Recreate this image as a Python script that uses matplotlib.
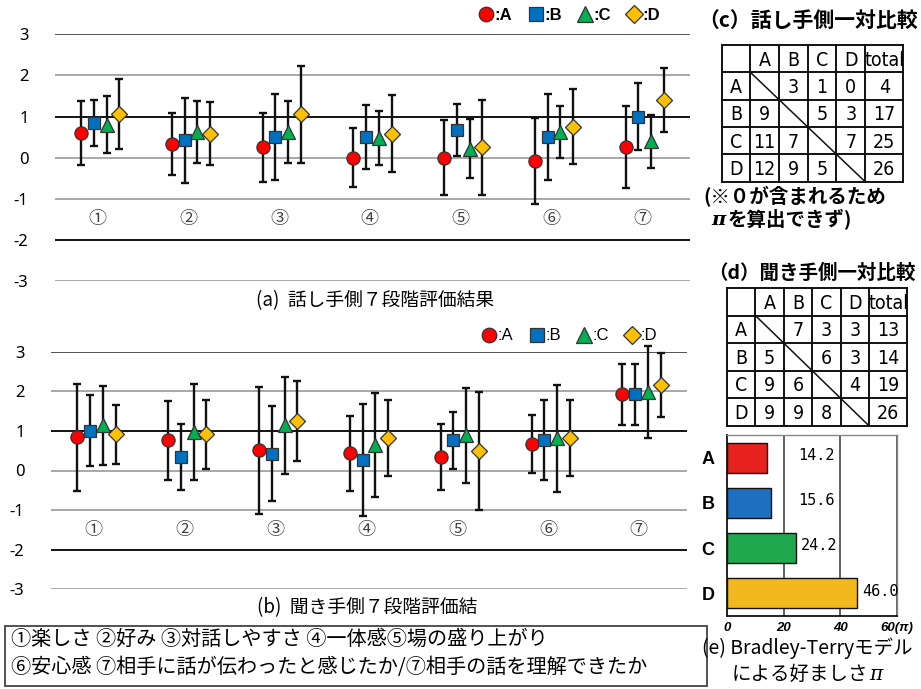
import matplotlib
matplotlib.use('Agg')
import matplotlib.pyplot as plt
from matplotlib import font_manager as fm
import numpy as np
from matplotlib.lines import Line2D
from matplotlib.patches import Rectangle

plt.rcParams['font.family'] = ['Noto Sans CJK JP', 'DejaVu Sans']
plt.rcParams['axes.unicode_minus'] = False

# ---------------- data ----------------
items = ['①', '②', '③', '④', '⑤', '⑥', '⑦']
groups = ['A', 'B', 'C', 'D']

# (a) speaker side: means and SDs
spk_mean_A = [0.60, 0.33, 0.25, 0.00, 0.00, -0.08, 0.25]
spk_mean_B = [0.85, 0.42, 0.50, 0.50, 0.67, 0.50, 1.00]
spk_mean_C = [0.80, 0.63, 0.63, 0.48, 0.22, 0.63, 0.40]
spk_mean_D = [1.06, 0.58, 1.06, 0.58, 0.25, 0.75, 1.40]
spk_sd_A = [0.77, 0.75, 0.84, 0.71, 0.91, 1.05, 1.00]
spk_sd_B = [0.56, 1.03, 1.04, 0.77, 0.63, 1.04, 0.81]
spk_sd_C = [0.69, 0.75, 0.75, 0.65, 0.72, 0.63, 0.64]
spk_sd_D = [0.85, 0.77, 1.18, 0.94, 1.16, 0.91, 0.77]

# (b) listener side: means and SDs
lis_mean_A = [0.84, 0.76, 0.51, 0.43, 0.34, 0.67, 1.92]
lis_mean_B = [1.01, 0.34, 0.42, 0.27, 0.76, 0.76, 1.92]
lis_mean_C = [1.14, 0.97, 1.14, 0.65, 0.89, 0.81, 1.99]
lis_mean_D = [0.91, 0.91, 1.25, 0.82, 0.49, 0.82, 2.16]
lis_sd_A = [1.35, 1.00, 1.60, 0.95, 0.84, 0.74, 0.76]
lis_sd_B = [0.90, 0.84, 1.20, 1.41, 0.72, 1.01, 0.76]
lis_sd_C = [0.99, 1.22, 1.22, 1.31, 1.20, 1.35, 1.16]
lis_sd_D = [0.75, 0.87, 1.01, 0.97, 1.50, 0.97, 0.80]

# (c) speaker pairwise comparison
tbl_c_A = [None, 3, 1, 0]
tbl_c_B = [9, None, 5, 3]
tbl_c_C = [11, 7, None, 7]
tbl_c_D = [12, 9, 5, None]
tbl_c_total = [4, 17, 25, 26]

# (d) listener pairwise comparison
tbl_d_A = [None, 7, 3, 3]
tbl_d_B = [5, None, 6, 3]
tbl_d_C = [9, 6, None, 4]
tbl_d_D = [9, 9, 8, None]
tbl_d_total = [13, 14, 19, 26]

# (e) Bradley-Terry preference
bt_values = [14.2, 15.6, 24.2, 46.0]
bt_ticks = ['0', '20', '40', '60(π)']

legend_text = ['①楽しさ ②好み ③対話しやすさ ④一体感⑤場の盛り上がり',
               '⑥安心感 ⑦相手に話が伝わったと感じたか/⑦相手の話を理解できたか']

# ---------------- style ----------------
face = ['#FF0000', '#0070C0', '#00B050', '#FFC000']
bar_face = ['#E8221E', '#1E6FBF', '#1FA84E', '#F2B81E']
markers = ['o', 's', '^', 'D']
msizes = [9.5, 9, 10.5, 8]
offsets = [-0.21, -0.07, 0.07, 0.21]

# narrow font for the tables, depending on what is installed
_avail = {(f.name, f.stretch) for f in fm.fontManager.ttflist}
_names = {n for n, _ in _avail}
if 'Liberation Sans Narrow' in _names:
    narrow = {'family': 'Liberation Sans Narrow', 'fontsize': 16}
elif ('DejaVu Sans', 'condensed') in _avail or ('DejaVu Sans', 'semi-condensed') in _avail:
    narrow = {'family': 'DejaVu Sans', 'stretch': 'condensed', 'fontsize': 14}
else:
    narrow = {'family': 'Liberation Sans', 'fontsize': 14}

W, H = 921, 689
fig = plt.figure(figsize=(W / 100, H / 100), dpi=100)


def px_rect(x0, y0, x1, y1):
    return [x0 / W, 1 - y1 / H, (x1 - x0) / W, (y1 - y0) / H]


def dot_chart(rect, means, sds, caption, cap_xy, leg_xy, leg_bold):
    ax = fig.add_axes(rect)
    ax.set_xlim(0, 7)
    ax.set_ylim(-3, 3)
    for s in ax.spines.values():
        s.set_visible(False)
    for y in range(-3, 4):
        if y in (1, -2):
            c, lw = '#000000', 1.3
        elif y == 3:
            c, lw = '#333333', 1.2
        else:
            c, lw = '#9a9a9a', 1.2
        ax.axhline(y, color=c, lw=lw, zorder=1)
    ax.set_yticks(range(-3, 4))
    ax.set_yticklabels([str(v) for v in range(-3, 4)], fontsize=12,
                       family=['Noto Sans', 'DejaVu Sans'])
    ax.tick_params(axis='y', length=0, pad=19)
    ax.set_xticks([])
    x = np.arange(7) + 0.5
    for k in range(4):
        xx = x + offsets[k]
        eb = ax.errorbar(xx, means[k], yerr=sds[k], fmt='none', ecolor='#111111',
                         elinewidth=1.7, capsize=3, capthick=1.7, zorder=2)
        for a in list(eb[1]) + list(eb[2]):
            a.set_clip_on(False)
        ax.plot(xx, means[k], ls='none', marker=markers[k], ms=msizes[k],
                mfc=face[k], mec='#333333', mew=0.9, zorder=3, clip_on=False)
    for i, lab in enumerate(items):
        ax.text(x[i] - 0.03, -1.5, lab, ha='center', va='center', fontsize=13,
                color='#404040')
    fig.text(cap_xy[0] / W, 1 - cap_xy[1] / H, caption, ha='center', va='center',
             fontsize=13.5)
    handles = [Line2D([], [], ls='none', marker=markers[k], ms=msizes[k] + 1,
                      mfc=face[k], mec='#333333', mew=0.9) for k in range(4)]
    fig.legend(handles, [':' + g for g in groups], loc='center',
               bbox_to_anchor=(leg_xy[0] / W, 1 - leg_xy[1] / H), ncol=4,
               frameon=False, handletextpad=0.0, columnspacing=0.9,
               handlelength=1.0,
               prop={'family': 'Liberation Sans', 'size': 12,
                     'weight': 'bold' if leg_bold else 'normal'})
    return ax


dot_chart(px_rect(55, 34.3, 690, 281),
          [spk_mean_A, spk_mean_B, spk_mean_C, spk_mean_D],
          [spk_sd_A, spk_sd_B, spk_sd_C, spk_sd_D],
          '(a)  話し手側７段階評価結果', (375, 301), (569, 15), True)
dot_chart(px_rect(51, 351.7, 687, 589.3),
          [lis_mean_A, lis_mean_B, lis_mean_C, lis_mean_D],
          [lis_sd_A, lis_sd_B, lis_sd_C, lis_sd_D],
          '(b)  聞き手側７段階評価結', (367, 608), (569, 336), False)


def draw_table(rect, rows, totals):
    ax = fig.add_axes(rect)
    cols = [0, 1, 2, 3, 4, 5, 6.33]
    ax.set_xlim(0, cols[-1])
    ax.set_ylim(5, 0)
    ax.axis('off')
    for xv in cols:
        ax.plot([xv, xv], [0, 5], color='#111111', lw=1.4, clip_on=False)
    for yv in range(6):
        ax.plot([0, cols[-1]], [yv, yv], color='#111111', lw=1.4, clip_on=False)
    ax.plot([1, 5], [1, 5], color='#111111', lw=1.1, clip_on=False)
    header = [''] + groups + ['total']
    for j, h in enumerate(header):
        ax.text((cols[j] + cols[j + 1]) / 2, 0.55, h, ha='center', va='center',
                **narrow)
    for i, r in enumerate(rows):
        ax.text(0.5, i + 1.55, groups[i], ha='center', va='center', **narrow)
        for j, v in enumerate(r):
            if v is not None:
                ax.text(j + 1.5, i + 1.55, str(v), ha='center', va='center',
                        **narrow)
        ax.text((cols[5] + cols[6]) / 2, i + 1.55, str(totals[i]), ha='center',
                va='center', **narrow)


draw_table(px_rect(721.7, 45, 903.3, 181.7),
           [tbl_c_A, tbl_c_B, tbl_c_C, tbl_c_D], tbl_c_total)
draw_table(px_rect(727, 288, 907, 426),
           [tbl_d_A, tbl_d_B, tbl_d_C, tbl_d_D], tbl_d_total)

fig.text(808 / W, 1 - 20 / H, '（c）話し手側一対比較', ha='center', va='center',
         fontsize=15, weight='bold')
fig.text(703 / W, 1 - 197 / H, '(※０が含まれるため', ha='left', va='center',
         fontsize=14, weight='bold')
pi_t = fig.text(711 / W, 1 - 220 / H, 'π', ha='left', va='center',
                fontsize=14, weight='bold', style='italic', family='DejaVu Serif')
fig.add_artist(plt.Annotation('を算出できず)', xy=(1.0, 0.5), xycoords=pi_t,
                              xytext=(2, 0), textcoords='offset points',
                              ha='left', va='center', fontsize=14, weight='bold'))
fig.text(812 / W, 1 - 273 / H, '（d）聞き手側一対比較', ha='center', va='center',
         fontsize=14, weight='bold')

# (e) bar chart
axb = fig.add_axes(px_rect(727, 435, 897, 616))
yb = np.arange(4)
axb.barh(yb, bt_values, height=0.66, color=bar_face, edgecolor='#111111',
         lw=1.0, zorder=3)
axb.set_xlim(0, 60)
axb.set_ylim(3.5, -0.5)
axb.set_xticks([0, 20, 40, 60])
axb.set_xticklabels(bt_ticks, fontsize=9.5, weight='bold', style='italic',
                    family=['Liberation Sans', 'DejaVu Sans'])
axb.set_yticks(yb)
axb.set_yticklabels(groups, fontsize=13, weight='bold',
                    family=['Liberation Sans', 'DejaVu Sans'])
axb.tick_params(length=0)
axb.tick_params(axis='y', pad=9)
axb.tick_params(axis='x', pad=4)
for xv in (20, 40, 60):
    axb.axvline(xv, color='#444444', lw=1.2, zorder=1)
for name, s in axb.spines.items():
    if name in ('left', 'bottom'):
        s.set_color('#111111')
        s.set_linewidth(1.3)
    else:
        s.set_color('#888888')
        s.set_linewidth(1.0)
for i, v in enumerate(bt_values):
    axb.text(max(v + 1.7, 25.0), i - 0.05, '%.1f' % v, ha='left', va='center',
             fontsize=11, family=['DejaVu Sans Mono'], zorder=4)

fig.text(807 / W, 1 - 648 / H, '(e) Bradley-Terryモデル', ha='center', va='center',
         fontsize=14)
cap2 = fig.text(800 / W, 1 - 674 / H, 'による好ましさ', ha='center', va='center',
                fontsize=14)
fig.add_artist(plt.Annotation('π', xy=(1.0, 0.5), xycoords=cap2,
                              xytext=(1, 0), textcoords='offset points',
                              ha='left', va='center', fontsize=14.5, style='italic',
                              family='DejaVu Serif'))

# bottom legend box
fig.patches.append(Rectangle((5 / W, 1 - 686 / H), 702 / W, 60 / H,
                             transform=fig.transFigure, fill=False,
                             edgecolor='#333333', lw=1.2))
fig.text(11 / W, 1 - 639 / H, legend_text[0], ha='left', va='center', fontsize=14.5)
fig.text(11 / W, 1 - 668 / H, legend_text[1], ha='left', va='center', fontsize=14.5)

fig.savefig('out.png', dpi=100)
